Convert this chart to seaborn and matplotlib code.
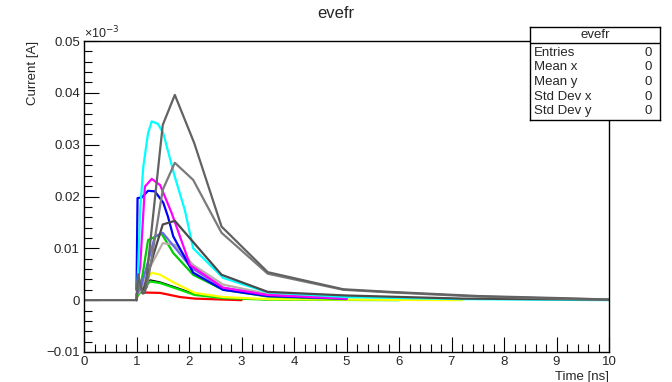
import numpy as np
import pandas as pd
import matplotlib
matplotlib.use("Agg")
import matplotlib.pyplot as plt
from matplotlib.ticker import MultipleLocator, FixedLocator, FixedFormatter
import seaborn as sns

# ---- data (time in ns, current in A) ----
t_red = [1.0, 1.03, 1.45, 1.83, 2.11, 3.0]
i_red = [0.0, 0.0015, 0.0014, 0.0006, 0.0003, 0.0]

t_black = [1.0, 1.1, 1.26, 1.45, 1.83, 2.11, 2.65, 3.5]
i_black = [0.0005, 0.0022, 0.0039, 0.0035, 0.0022, 0.0012, 0.0005, 0.0001]

t_green2 = [1.0, 1.1, 1.26, 1.45, 1.83, 2.11, 2.65, 3.5, 6.0]
i_green2 = [0.0005, 0.002, 0.0036, 0.0033, 0.002, 0.001, 0.0004, 0.0001, 0.0]

t_yellow = [1.0, 1.03, 1.1, 1.29, 1.45, 1.73, 2.11, 2.65, 3.5, 5.0, 7.2]
i_yellow = [0.0005, 0.0039, 0.003, 0.0053, 0.0049, 0.0033, 0.0014, 0.0006, 0.0002, 0.0001, 0.0]

t_green = [1.0, 1.1, 1.22, 1.48, 1.7, 2.08, 2.65, 3.5, 5.0]
i_green = [0.001, 0.0039, 0.0116, 0.0128, 0.0091, 0.0049, 0.002, 0.0007, 0.0002]

t_silver = [1.0, 1.1, 1.26, 1.5, 1.73, 2.08, 2.65, 3.5, 5.0]
i_silver = [0.001, 0.002, 0.0064, 0.011, 0.0107, 0.0068, 0.003, 0.0012, 0.0004]

t_slate = [1.0, 1.1, 1.35, 1.5, 2.05, 2.65, 3.5, 5.0]
i_slate = [0.001, 0.003, 0.0123, 0.013, 0.0062, 0.0024, 0.0009, 0.0003]

t_blue = [1.0, 1.02, 1.1, 1.22, 1.35, 1.51, 1.6, 1.7, 2.08, 2.65, 3.5, 5.0]
i_blue = [0.002, 0.0197, 0.0198, 0.0211, 0.021, 0.0188, 0.0161, 0.0123, 0.0053, 0.002, 0.0008, 0.0003]

t_magenta = [1.0, 1.07, 1.16, 1.29, 1.45, 1.67, 2.02, 2.65, 3.5, 5.0]
i_magenta = [0.002, 0.0064, 0.0219, 0.0234, 0.0222, 0.0168, 0.0068, 0.0024, 0.001, 0.0003]

t_cyan = [1.0, 1.03, 1.07, 1.13, 1.22, 1.29, 1.41, 1.51, 1.73, 1.92, 2.08, 2.65, 3.5, 5.0, 7.2, 10.0]
i_cyan = [0.0, 0.0058, 0.0174, 0.0258, 0.0322, 0.0345, 0.034, 0.0322, 0.0238, 0.0174, 0.010, 0.0043, 0.0015, 0.0006, 0.0002, 0.0]

t_gray3 = [1.0, 1.03, 1.12, 1.3, 1.5, 1.73, 2.62, 3.5, 5.0, 7.2, 10.0]
i_gray3 = [0.0, 0.004, 0.0015, 0.008, 0.0146, 0.0153, 0.0049, 0.0016, 0.0009, 0.0003, 0.0001]

t_gray2 = [1.0, 1.03, 1.12, 1.2, 1.5, 1.73, 2.08, 2.62, 3.5, 4.94, 5.83, 7.5, 9.45, 10.0]
i_gray2 = [0.0, 0.004, 0.0013, 0.0026, 0.0213, 0.0265, 0.0232, 0.013, 0.0051, 0.0020, 0.0015, 0.0007, 0.0002, 0.0001]

t_gray1 = [0.0, 1.0, 1.03, 1.12, 1.16, 1.5, 1.73, 2.1, 2.62, 3.5, 4.94, 5.83, 7.5, 9.45, 10.0]
i_gray1 = [0.0, 0.0, 0.005, 0.0013, 0.0014, 0.0338, 0.0396, 0.0303, 0.0142, 0.0054, 0.0021, 0.0016, 0.0008, 0.0003, 0.0001]

series_names = ["red", "black", "green2", "yellow", "green", "silver", "slate", "blue",
                "magenta", "cyan", "gray3", "gray2", "gray1"]
series_t = [t_red, t_black, t_green2, t_yellow, t_green, t_silver, t_slate, t_blue,
            t_magenta, t_cyan, t_gray3, t_gray2, t_gray1]
series_i = [i_red, i_black, i_green2, i_yellow, i_green, i_silver, i_slate, i_blue,
            i_magenta, i_cyan, i_gray3, i_gray2, i_gray1]
colors = {"red": "#ff0000", "black": "#000000", "green2": "#00e000", "yellow": "#ffff00",
          "green": "#00cc00", "silver": "#b8b0a8", "slate": "#6a6ae8", "blue": "#0000ff",
          "magenta": "#ff00ff", "cyan": "#00ffff", "gray3": "#4a4a4a", "gray2": "#7a7a7a",
          "gray1": "#626262"}
widths = {n: 1.6 for n in series_names}
widths["black"] = 1.0

x_ticks = [0, 1, 2, 3, 4, 5, 6, 7, 8, 9, 10]
x_ticklabels = ["0", "1", "2", "3", "4", "5", "6", "7", "8", "9", "10"]
y_ticks = [-0.01, 0.0, 0.01, 0.02, 0.03, 0.04, 0.05]
y_ticklabels = ["\u22120.01", "0", "0.01", "0.02", "0.03", "0.04", "0.05"]

stats_labels = ["Entries", "Mean x", "Mean y", "Std Dev x", "Std Dev y"]
stats_values = ["0", "0", "0", "0", "0"]

# ---- plotting ----
sns.set_style("ticks")
plt.rcParams["font.family"] = ["Liberation Sans", "DejaVu Sans"]

fig = plt.figure(figsize=(6.72, 3.82), dpi=100)
ax = fig.add_axes([84 / 672, 30 / 382, (609 - 84) / 672, (352 - 41) / 382])

rows = []
for n, tt, ii in zip(series_names, series_t, series_i):
    for k, (a, b) in enumerate(zip(tt, ii)):
        rows.append({"series": n, "t": a, "i": b, "k": k})
df = pd.DataFrame(rows)

for n in series_names:
    sub = df[df["series"] == n]
    sns.lineplot(data=sub, x="t", y="i", color=colors[n], lw=widths[n], ax=ax,
                 sort=False, estimator=None, legend=False)

ax.set_xlim(0, 10)
ax.set_ylim(-0.01, 0.05)
ax.set_xlabel("")
ax.set_ylabel("")
for s in ax.spines.values():
    s.set_linewidth(1.0)
    s.set_color("black")

ax.xaxis.set_major_locator(FixedLocator(x_ticks))
ax.xaxis.set_major_formatter(FixedFormatter(x_ticklabels))
ax.xaxis.set_minor_locator(MultipleLocator(0.2))
ax.yaxis.set_major_locator(FixedLocator(y_ticks))
ax.yaxis.set_major_formatter(FixedFormatter(y_ticklabels))
ax.yaxis.set_minor_locator(MultipleLocator(0.002))
ax.tick_params(axis="both", which="major", direction="in", length=11, width=0.8,
               labelsize=9.5, color="black", pad=3)
ax.tick_params(axis="both", which="minor", direction="in", length=5.5, width=0.8,
               color="black")
ax.tick_params(top=False, right=False, which="both")

fig.text(336 / 672, 1 - 14 / 382, "evefr", ha="center", va="center", fontsize=12)
fig.text(84 / 672, 1 - 33 / 382, "\u00d710$^{-3}$", ha="left", va="center", fontsize=9)
fig.text(33 / 672, 1 - 41 / 382, "Current [A]", ha="center", va="top", rotation=90, fontsize=9.5)
fig.text(609 / 672, 1 - 377 / 382, "Time [ns]", ha="right", va="center", fontsize=9.5)

# stats box
bx0, bx1, by0, by1 = 530, 660, 27, 120
box_ax = fig.add_axes([bx0 / 672, 1 - by1 / 382, (bx1 - bx0) / 672, (by1 - by0) / 382])
box_ax.set_xlim(0, bx1 - bx0)
box_ax.set_ylim(by1 - by0, 0)
box_ax.set_xticks([])
box_ax.set_yticks([])
box_ax.set_facecolor("white")
for s in box_ax.spines.values():
    s.set_linewidth(1.0)
    s.set_color("black")
box_ax.axhline(16, color="black", lw=1.0)
box_ax.text((bx1 - bx0) / 2, 8.5, "evefr", ha="center", va="center", fontsize=9.5)
for k, (lab, val) in enumerate(zip(stats_labels, stats_values)):
    yy = 25.5 + k * 14.7
    box_ax.text(4, yy, lab, ha="left", va="center", fontsize=9.5)
    box_ax.text(bx1 - bx0 - 8, yy, val, ha="right", va="center", fontsize=9.5)

fig.savefig("out.png", dpi=100)
